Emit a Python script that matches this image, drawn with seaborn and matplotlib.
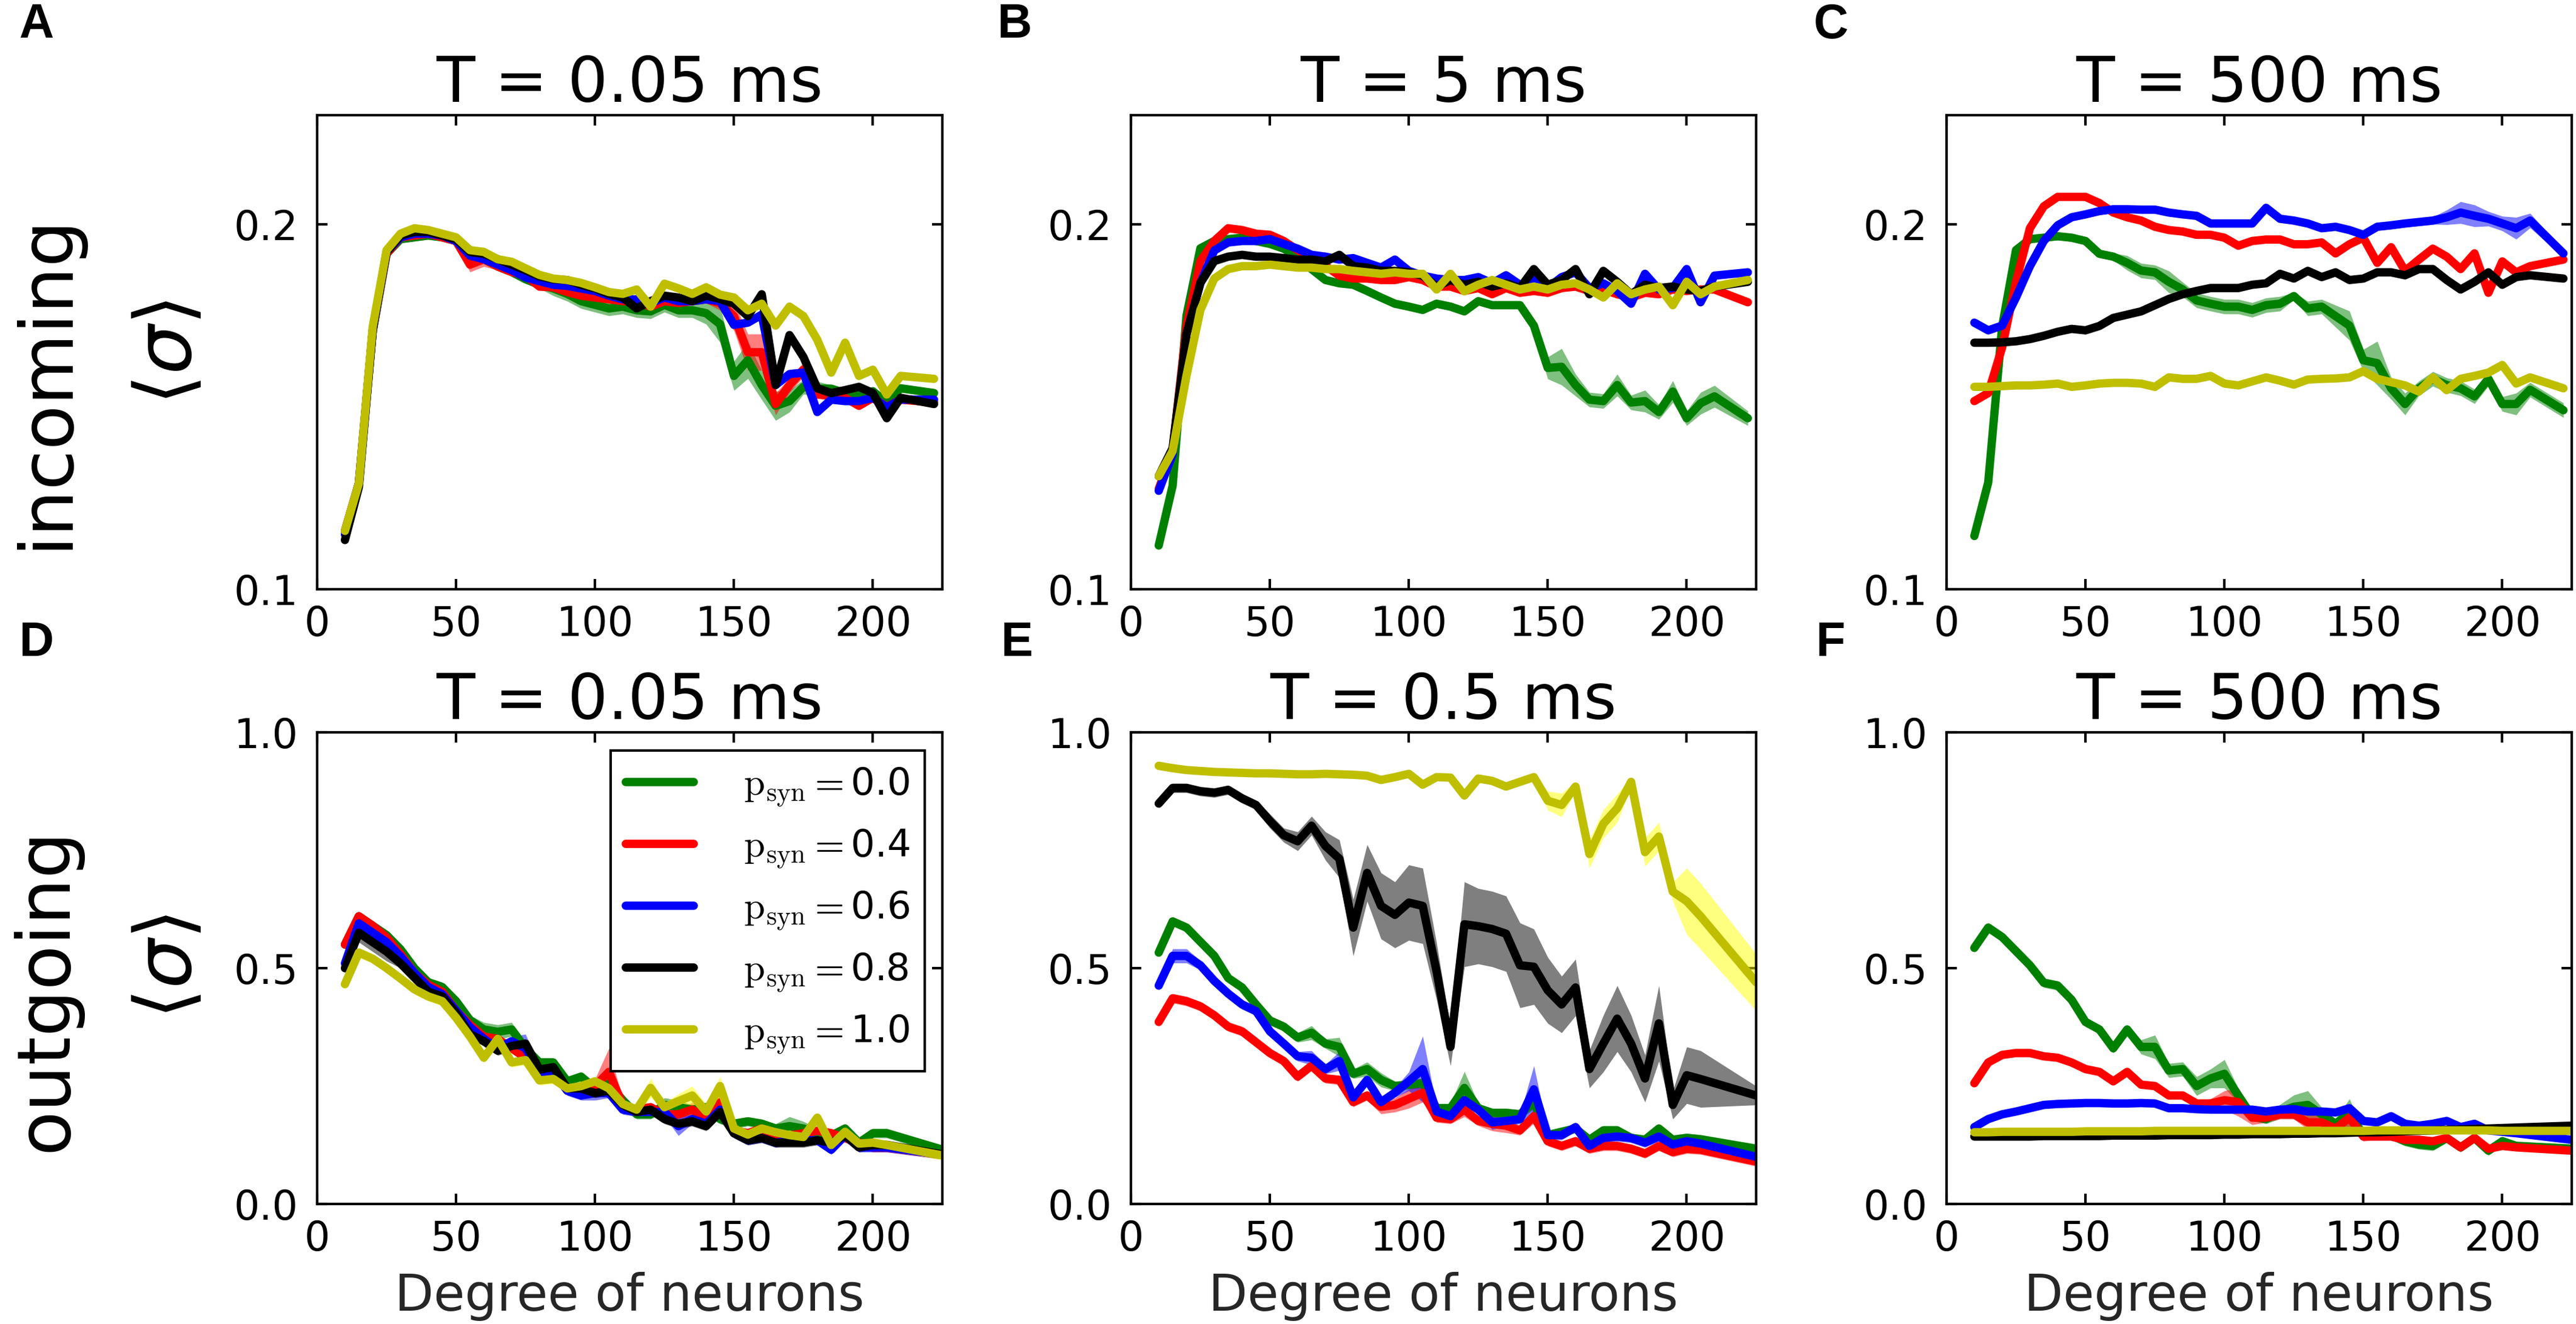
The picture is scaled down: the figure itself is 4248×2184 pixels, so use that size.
import numpy as np
import pandas as pd
import matplotlib
matplotlib.use("Agg")
import matplotlib.pyplot as plt
import seaborn as sns
from matplotlib.lines import Line2D
from matplotlib.font_manager import FontProperties
from matplotlib.ticker import FormatStrFormatter

# ---------------- data ----------------
PSYN = ["0.0", "0.4", "0.6", "0.8", "1.0"]
TITLES = ["T = 0.05 ms", "T = 5 ms", "T = 500 ms", "T = 0.05 ms", "T = 0.5 ms", "T = 500 ms"]
LETTERS = ["A", "B", "C", "D", "E", "F"]
ROW_LABELS = ["incoming", "outgoing"]
XLABEL = "Degree of neurons"
X_TICKS = [0, 50, 100, 150, 200]
TOP_Y_TICKS = [0.1, 0.2]
BOT_Y_TICKS = [0.0, 0.5, 1.0]

TOP_X = [10, 15, 20, 25, 30, 35, 40, 45, 50, 55,
         60, 65, 70, 75, 80, 85, 90, 95, 100, 105,
         110, 115, 120, 125, 130, 135, 140, 145, 150, 155,
         160, 165, 170, 175, 180, 185, 190, 195, 200, 205,
         210, 222]
BOT_X = [10, 15, 20, 25, 30, 35, 40, 45, 50, 55,
         60, 65, 70, 75, 80, 85, 90, 95, 100, 105,
         110, 115, 120, 125, 130, 135, 140, 145, 150, 155,
         160, 165, 170, 175, 180, 185, 190, 195, 200, 205,
         225]

# Panel A (incoming, T = 0.05 ms)
A_GRN = [.116, .129, .171, .192, .196, .1965, .197, .1965, .1955, .1925,
         .1905, .1885, .187, .185, .1835, .1825, .181, .179, .178, .177,
         .1775, .1765, .1762, .178, .1765, .1765, .1757, .1727, .1585, .1628,
         .156, .1503, .1516, .1555, .155, .155, .1538, .1534, .1543, .1512,
         .1551, .1538]
A_RED = [.116, .129, .171, .192, .1965, .197, .1975, .1965, .1955, .189,
         .1905, .1885, .187, .186, .183, .1828, .1815, .1805, .180, .1795,
         .179, .179, .1775, .179, .1785, .179, .1795, .1785, .1749, .165,
         .165, .1508, .156, .1602, .1534, .153, .1525, .1503, .1525, .150,
         .152, .1512]
A_BLU = [.115, .129, .171, .1925, .1965, .1975, .1975, .197, .1955, .1915,
         .1905, .189, .1875, .1855, .1845, .1835, .1832, .1825, .1818, .1805,
         .1795, .1795, .1785, .180, .179, .179, .1795, .179, .1725, .1731,
         .1753, .156, .159, .1594, .1486, .152, .1516, .1516, .1525, .1499,
         .152, .152]
A_BLK = [.1135, .128, .171, .1925, .197, .198, .198, .197, .196, .1925,
         .192, .1905, .189, .1875, .1858, .185, .1848, .1835, .1825, .181,
         .180, .177, .179, .1805, .180, .179, .1805, .1796, .1783, .1749,
         .1809, .156, .1697, .1637, .1551, .1538, .1546, .1555, .1538, .1469,
         .1525, .1508]
A_YEL = [.116, .129, .172, .193, .1975, .199, .1985, .1975, .1965, .193,
         .1925, .1905, .1898, .188, .1862, .1852, .1848, .184, .1828, .1815,
         .181, .1822, .1775, .1838, .1825, .181, .1828, .1808, .180, .1765,
         .1783, .1723, .1775, .1749, .1684, .1594, .1676, .1585, .1602, .1534,
         .1585, .1577]
A_GRN_ERR = [.001, .001, .001, .001, .001, .001, .001, .001, .001, .001,
             .001, .001, .001, .001, .001, .002, .002, .002, .002, .002,
             .002, .002, .002, .002, .002, .002, .003, .005, .004, .005,
             .004, .004, .003, .002, .002, .001, .001, .001, .001, .001,
             .001, .001]
A_RED_ERR = [.001, .001, .001, .001, .001, .001, .001, .001, .001, .002,
             .002, .001, .001, .001, .001, .001, .001, .001, .001, .001,
             .001, .001, .001, .001, .001, .001, .001, .002, .004, .005,
             .005, .003, .002, .002, .001, .001, .001, .001, .001, .001,
             .001, .001]

# Panel B (incoming, T = 5 ms)
B_GRN = [.112, .1284, .175, .1935, .1955, .196, .1964, .1955, .1947, .1934,
         .191, .1878, .1848, .1839, .1835, .1818, .180, .1783, .1775, .1766,
         .1783, .1775, .1762, .179, .1779, .1779, .1779, .1723, .1607, .161,
         .156, .152, .1516, .156, .1512, .1516, .1486, .1542, .1469, .151,
         .1529, .1469]
B_RED = [.1275, .138, .172, .190, .1955, .199, .1985, .1975, .1972, .1955,
         .193, .1912, .1887, .186, .1852, .1852, .1848, .1848, .1856, .1848,
         .183, .183, .1818, .1826, .1809, .1826, .1813, .1818, .1813, .1826,
         .183, .1818, .1822, .1809, .180, .1813, .1809, .1822, .1818, .1822,
         .1822, .1787]
B_BLU = [.127, .137, .170, .184, .1929, .1951, .1955, .1955, .196, .1947,
         .1934, .1917, .1912, .1904, .1908, .1895, .1882, .1904, .1873, .186,
         .1852, .1848, .1848, .1856, .1839, .1861, .1835, .1848, .1826, .1856,
         .1869, .1826, .1839, .1818, .1783, .1865, .1822, .1826, .1878, .1787,
         .186, .1869]
B_BLK = [.131, .1387, .170, .184, .190, .1912, .1917, .1912, .1912, .1908,
         .1904, .1904, .1899, .1917, .1886, .1882, .1873, .1873, .1869, .186,
         .183, .1848, .1835, .1843, .183, .1839, .1826, .1878, .1835, .1848,
         .1878, .1809, .1873, .1843, .1809, .1835, .1826, .183, .1822, .1818,
         .183, .1843]
B_YEL = [.131, .1379, .1586, .1766, .1852, .1878, .1886, .1886, .189, .1886,
         .1882, .1882, .1878, .1878, .1873, .1869, .1865, .1869, .1865, .1865,
         .1822, .1865, .1817, .1835, .1848, .1835, .1822, .183, .1822, .1835,
         .1839, .1822, .180, .1839, .1809, .1822, .183, .1779, .1843, .1809,
         .183, .1848]
B_GRN_ERR = [.001, .001, .001, .001, .001, .001, .001, .001, .001, .001,
             .001, .001, .001, .001, .001, .001, .001, .001, .001, .001,
             .001, .001, .001, .001, .001, .001, .001, .002, .003, .005,
             .003, .002, .002, .003, .002, .003, .002, .003, .002, .003,
             .003, .002]

# Panel C (incoming, T = 500 ms)
C_GRN = [.1146, .1293, .172, .193, .196, .1964, .1968, .1964, .1955, .192,
         .1912, .1895, .1874, .1869, .1843, .1822, .1792, .1783, .1775, .1775,
         .1766, .1779, .1783, .1804, .177, .1775, .1749, .1723, .1628, .162,
         .1551, .1508, .1551, .1577, .156, .1551, .1529, .1577, .1508, .1508,
         .1547, .1491]
C_RED = [.1516, .1538, .1663, .1843, .199, .205, .2076, .2076, .2076, .2059,
         .2033, .202, .2011, .1994, .1985, .1981, .1972, .1972, .1964, .1942,
         .1955, .1959, .1959, .1946, .1946, .1951, .1921, .1946, .1964, .1895,
         .1938, .1873, .1904, .1934, .1912, .1878, .1921, .1813, .1899, .1869,
         .1886, .1904]
C_BLU = [.1731, .171, .1723, .180, .1886, .1955, .1998, .202, .2028, .2037,
         .2042, .2042, .2041, .2041, .2033, .2028, .2024, .2003, .2003, .2003,
         .2003, .2046, .2016, .2011, .2003, .199, .1994, .1985, .1972, .1994,
         .1998, .2003, .2007, .2011, .202, .2033, .2024, .2016, .2003, .199,
         .2011, .1921]
C_BLK = [.1676, .1676, .1677, .168, .1686, .1695, .1706, .1714, .171, .1722,
         .1744, .1753, .1762, .1779, .1796, .1809, .1818, .1826, .1826, .1826,
         .1835, .1839, .1865, .1852, .1873, .1856, .1869, .1848, .1852, .1869,
         .1869, .1861, .1878, .1878, .1848, .1822, .1843, .1869, .1835, .1856,
         .1861, .1852]
C_YEL = [.1555, .1555, .1557, .1559, .1559, .1561, .1564, .1555, .1559, .1564,
         .1566, .1566, .1564, .1555, .1581, .1577, .1577, .1585, .1564, .1559,
         .157, .1581, .1572, .1561, .1575, .1577, .1578, .1581, .1598, .1577,
         .1568, .1559, .1542, .1581, .1546, .1577, .1585, .1594, .1615, .1564,
         .1581, .1551]
C_GRN_ERR = [.001, .001, .001, .001, .001, .001, .001, .001, .001, .001,
             .001, .002, .002, .002, .003, .002, .002, .002, .002, .002,
             .002, .002, .002, .001, .002, .002, .003, .004, .003, .006,
             .003, .003, .002, .002, .002, .002, .002, .002, .002, .003,
             .002, .002]
C_BLU_ERR = [.001, .001, .001, .001, .001, .001, .001, .001, .001, .001,
             .001, .001, .001, .001, .001, .001, .001, .001, .001, .001,
             .001, .001, .001, .001, .001, .001, .001, .001, .001, .001,
             .001, .001, .001, .001, .002, .003, .003, .002, .002, .003,
             .002, .001]

# Panel D (outgoing, T = 0.05 ms)
D_GRN = [.55, .61, .59, .57, .54, .50, .47, .46, .43, .39,
         .37, .365, .37, .33, .30, .30, .26, .27, .245, .255,
         .22, .19, .19, .21, .205, .20, .205, .18, .17, .175,
         .17, .16, .165, .16, .15, .145, .16, .13, .15, .15,
         .115]
D_RED = [.55, .61, .59, .565, .53, .49, .465, .45, .41, .38,
         .355, .35, .33, .31, .27, .27, .245, .24, .25, .28,
         .21, .20, .205, .19, .19, .20, .18, .215, .155, .15,
         .16, .145, .145, .15, .155, .15, .14, .13, .12, .12,
         .105]
D_BLU = [.51, .595, .575, .555, .525, .49, .46, .445, .41, .375,
         .35, .33, .345, .33, .28, .28, .24, .23, .235, .235,
         .20, .195, .195, .195, .165, .18, .17, .20, .15, .135,
         .14, .13, .135, .135, .135, .115, .145, .12, .12, .12,
         .105]
D_BLK = [.50, .575, .555, .535, .51, .48, .45, .44, .405, .36,
         .345, .325, .335, .34, .285, .29, .245, .245, .235, .24,
         .21, .195, .20, .18, .17, .175, .165, .195, .15, .135,
         .14, .13, .13, .13, .135, .13, .145, .12, .125, .125,
         .105]
D_YEL = [.466, .533, .52, .50, .478, .455, .44, .43, .395, .355,
         .31, .35, .30, .305, .262, .265, .245, .25, .26, .245,
         .212, .20, .246, .205, .218, .23, .196, .25, .16, .147,
         .16, .152, .146, .142, .183, .125, .153, .128, .13, .125,
         .103]
D_GRN_ERR = [.01, .01, .01, .01, .01, .01, .01, .01, .01, .01,
             .015, .015, .015, .01, .01, .01, .01, .01, .01, .01,
             .01, .01, .01, .015, .015, .01, .01, .01, .01, .01,
             .01, .01, .02, .015, .01, .01, .01, .01, .01, .01,
             .01]
D_RED_ERR = [.01, .01, .01, .01, .01, .01, .01, .01, .01, .01,
             .01, .01, .01, .01, .01, .01, .01, .01, .015, .05,
             .01, .01, .01, .01, .01, .015, .01, .02, .01, .01,
             .01, .01, .01, .01, .01, .01, .01, .01, .01, .01,
             .01]
D_BLU_ERR = [.01, .01, .01, .01, .01, .01, .01, .01, .01, .01,
             .01, .01, .01, .03, .01, .01, .01, .01, .015, .01,
             .01, .01, .01, .01, .02, .01, .01, .01, .01, .01,
             .01, .01, .01, .01, .01, .01, .01, .01, .01, .01,
             .01]
D_BLK_ERR = [.01, .02, .02, .02, .01, .01, .01, .01, .01, .01,
             .01, .01, .01, .01, .01, .01, .01, .01, .01, .01,
             .01, .01, .01, .01, .01, .01, .01, .01, .01, .01,
             .01, .01, .01, .01, .01, .01, .01, .01, .01, .01,
             .01]
D_YEL_ERR = [.012, .01, .01, .01, .01, .01, .01, .01, .01, .01,
             .01, .01, .01, .01, .01, .01, .01, .01, .01, .01,
             .01, .01, .02, .01, .015, .02, .015, .02, .01, .01,
             .01, .01, .01, .01, .01, .01, .01, .01, .01, .01,
             .01]

# Panel E (outgoing, T = 0.5 ms)
E_GRN = [.533, .599, .586, .556, .526, .479, .459, .423, .389, .376,
         .353, .363, .34, .333, .276, .286, .263, .25, .253, .256,
         .203, .203, .246, .203, .193, .193, .19, .216, .146, .153,
         .16, .136, .156, .156, .14, .136, .16, .136, .14, .137,
         .117]
E_RED = [.386, .436, .43, .419, .40, .376, .366, .343, .32, .303,
         .27, .293, .266, .263, .216, .23, .206, .21, .223, .236,
         .183, .18, .20, .176, .17, .166, .156, .186, .133, .123,
         .133, .117, .123, .123, .117, .107, .123, .11, .117, .115,
         .09]
E_BLU = [.463, .526, .526, .506, .473, .446, .423, .409, .366, .34,
         .313, .31, .286, .303, .226, .263, .216, .236, .26, .286,
         .196, .186, .22, .20, .173, .176, .18, .243, .146, .146,
         .163, .123, .14, .143, .14, .13, .143, .126, .133, .128,
         .10]
E_BLK = [.849, .882, .882, .875, .872, .878, .86, .846, .812, .782,
         .769, .802, .759, .732, .586, .702, .632, .613, .639, .632,
         .493, .333, .593, .589, .583, .573, .506, .503, .453, .423,
         .459, .286, .34, .393, .34, .266, .383, .21, .273, .265,
         .23]
E_YEL = [.929, .924, .92, .918, .916, .915, .914, .913, .913, .912,
         .911, .911, .912, .911, .91, .908, .899, .905, .912, .889,
         .905, .904, .866, .902, .897, .885, .895, .905, .855, .846,
         .885, .742, .806, .839, .895, .746, .779, .662, .642, .61,
         .47]
E_GRN_ERR = [.01, .01, .01, .01, .01, .01, .01, .01, .01, .01,
             .01, .015, .01, .02, .01, .015, .015, .01, .01, .01,
             .01, .01, .035, .01, .01, .01, .01, .015, .01, .01,
             .01, .01, .01, .01, .01, .01, .01, .01, .01, .01,
             .01]
E_RED_ERR = [.01, .01, .01, .01, .01, .01, .01, .01, .01, .01,
             .01, .01, .01, .01, .01, .01, .015, .015, .02, .02,
             .01, .01, .015, .01, .015, .015, .01, .015, .01, .01,
             .01, .01, .01, .01, .01, .01, .01, .01, .01, .01,
             .01]
E_BLU_ERR = [.01, .015, .015, .01, .01, .01, .01, .01, .01, .01,
             .01, .015, .01, .02, .01, .01, .01, .01, .02, .07,
             .01, .01, .01, .01, .015, .01, .01, .05, .01, .01,
             .01, .01, .01, .01, .01, .01, .01, .01, .01, .01,
             .01]
E_BLK_ERR = [.01, .01, .01, .01, .01, .01, .01, .01, .015, .015,
             .02, .02, .03, .04, .06, .06, .07, .07, .08, .08,
             .06, .04, .09, .08, .08, .08, .09, .08, .07, .06,
             .06, .04, .06, .07, .06, .05, .08, .03, .06, .06,
             .02]
E_YEL_ERR = [.005, .005, .005, .005, .005, .005, .005, .005, .005, .005,
             .005, .005, .005, .005, .005, .005, .005, .005, .005, .005,
             .005, .005, .005, .005, .005, .005, .005, .005, .02, .025,
             .01, .03, .03, .03, .01, .03, .03, .02, .07, .07,
             .06]

# Panel F (outgoing, T = 500 ms)
F_GRN = [.543, .586, .566, .536, .506, .469, .463, .433, .386, .37,
         .33, .37, .333, .333, .283, .286, .25, .266, .276, .23,
         .186, .18, .196, .206, .21, .19, .17, .193, .146, .146,
         .146, .133, .126, .123, .14, .12, .14, .113, .133, .123,
         .117]
F_RED = [.256, .30, .316, .32, .32, .313, .31, .30, .286, .28,
         .26, .28, .253, .25, .23, .23, .213, .213, .22, .216,
         .183, .183, .19, .19, .173, .173, .16, .183, .143, .143,
         .143, .136, .136, .133, .14, .12, .14, .117, .123, .12,
         .113]
F_BLU = [.163, .18, .19, .196, .203, .21, .212, .213, .214, .214,
         .213, .213, .214, .213, .203, .203, .201, .20, .20, .20,
         .20, .196, .20, .201, .196, .196, .194, .203, .176, .173,
         .186, .17, .166, .17, .176, .163, .17, .156, .153, .15,
         .136]
F_BLK = [.143, .143, .143, .143, .143, .144, .144, .144, .144, .144,
         .145, .145, .145, .145, .146, .146, .146, .146, .147, .147,
         .148, .148, .148, .149, .149, .150, .150, .151, .152, .152,
         .153, .154, .155, .156, .157, .158, .159, .160, .161, .162,
         .166]
F_YEL = [.152, .152, .153, .153, .153, .153, .153, .153, .154, .154,
         .154, .154, .154, .155, .155, .155, .155, .155, .155, .155,
         .155, .155, .155, .155, .155, .155, .155, .155, .155, .156,
         .156, .156, .156, .156, .156, .156, .156, .156, .155, .155,
         .155]
F_GRN_ERR = [.01, .01, .01, .01, .01, .01, .01, .01, .01, .01,
             .01, .01, .015, .025, .015, .015, .02, .02, .03, .015,
             .01, .01, .015, .025, .03, .015, .01, .03, .01, .01,
             .01, .01, .01, .01, .01, .01, .01, .01, .01, .01,
             .01]
F_RED_ERR = [.005, .005, .005, .005, .005, .005, .005, .005, .005, .005,
             .005, .005, .005, .005, .005, .005, .005, .01, .02, .03,
             .015, .01, .01, .01, .015, .02, .015, .02, .01, .005,
             .005, .005, .005, .005, .005, .005, .005, .005, .005, .005,
             .005]

# ---------------- style ----------------
LINE_COLORS = ["#008000", "#ff0000", "#0000ff", "#000000", "#bfbf00"]
BAND_COLORS = ["#008000", "#ff0000", "#0000ff", "#000000", "#ffff00"]
LW = 3.3

sns.set_theme(style="ticks")
plt.rcParams.update({
    "font.family": ["DejaVu Sans"],
    "mathtext.fontset": "dejavusans",
    "axes.linewidth": 1.0,
    "axes.edgecolor": "black",
    "xtick.direction": "in",
    "ytick.direction": "in",
    "xtick.top": True,
    "ytick.right": True,
    "xtick.major.size": 4,
    "ytick.major.size": 4,
    "xtick.major.width": 1,
    "ytick.major.width": 1,
    "xtick.color": "black",
    "ytick.color": "black",
    "text.color": "black",
})

W, H = 4248, 2184
fig = plt.figure(figsize=(W / 300, H / 300), dpi=300)
fig.patch.set_facecolor("white")

COL_LEFT = [523, 1865, 3210]
COL_W = 1031
ROW_TOP = [190, 1208]
ROW_H = [782, 778]

panels = [
    (TOP_X, [A_GRN, A_RED, A_BLU, A_BLK, A_YEL], {0: A_GRN_ERR, 1: A_RED_ERR}),
    (TOP_X, [B_GRN, B_RED, B_BLU, B_BLK, B_YEL], {0: B_GRN_ERR}),
    (TOP_X, [C_GRN, C_RED, C_BLU, C_BLK, C_YEL], {0: C_GRN_ERR, 2: C_BLU_ERR}),
    (BOT_X, [D_GRN, D_RED, D_BLU, D_BLK, D_YEL],
     {0: D_GRN_ERR, 1: D_RED_ERR, 2: D_BLU_ERR, 3: D_BLK_ERR, 4: D_YEL_ERR}),
    (BOT_X, [E_GRN, E_RED, E_BLU, E_BLK, E_YEL],
     {0: E_GRN_ERR, 1: E_RED_ERR, 2: E_BLU_ERR, 3: E_BLK_ERR, 4: E_YEL_ERR}),
    (BOT_X, [F_GRN, F_RED, F_BLU, F_BLK, F_YEL], {0: F_GRN_ERR, 1: F_RED_ERR}),
]

palette = dict(zip(PSYN, LINE_COLORS))
axes = []
for i, (xs, series, errs) in enumerate(panels):
    r, c = divmod(i, 3)
    ax = fig.add_axes([COL_LEFT[c] / W, 1 - (ROW_TOP[r] + ROW_H[r]) / H,
                       COL_W / W, ROW_H[r] / H])
    axes.append(ax)
    for k, e in errs.items():
        y = np.asarray(series[k])
        e = np.asarray(e)
        ax.fill_between(xs, y - e, y + e, color=BAND_COLORS[k], alpha=0.5,
                        linewidth=0, zorder=1)
    df = pd.concat([pd.DataFrame({"degree": xs, "sigma": s, "psyn": p})
                    for s, p in zip(series, PSYN)], ignore_index=True)
    sns.lineplot(data=df, x="degree", y="sigma", hue="psyn", hue_order=PSYN,
                 palette=palette, linewidth=LW, legend=False, errorbar=None,
                 sort=False, ax=ax, zorder=2)
    ax.set_xlim(0, 225)
    ax.set_xticks(X_TICKS)
    if r == 0:
        ax.set_ylim(0.1, 0.23)
        ax.set_yticks(TOP_Y_TICKS)
        ax.set_xlabel("")
    else:
        ax.set_ylim(0.0, 1.0)
        ax.set_yticks(BOT_Y_TICKS)
        ax.set_xlabel(XLABEL, fontsize=20, labelpad=5)
    ax.yaxis.set_major_formatter(FormatStrFormatter("%.1f"))
    ax.set_ylabel("")
    ax.tick_params(axis="both", which="major", labelsize=16)
    ax.tick_params(axis="x", pad=6)
    ax.tick_params(axis="y", pad=7.5)
    ax.set_title(TITLES[i], fontsize=25, pad=4)
    for sp in ax.spines.values():
        sp.set_visible(True)
        sp.set_linewidth(1.0)
        sp.set_color("black")

# legend in panel D
handles = [Line2D([0], [0], color=col, lw=LW) for col in LINE_COLORS]
labels = [r"$\mathrm{p_{syn}}=$" + p for p in PSYN]
leg = axes[3].legend(handles, labels, loc="upper right",
                     bbox_to_anchor=(0.972, 0.961), borderaxespad=0,
                     prop=FontProperties(family="DejaVu Sans", size=15, math_fontfamily="cm"),
                     handlelength=1.8, handletextpad=1.3, labelspacing=0.5,
                     borderpad=0.4, fancybox=False, framealpha=1, edgecolor="black")
leg.get_frame().set_linewidth(1.0)

# row labels
fig.text(76 / W, 1 - 628 / H, ROW_LABELS[0], rotation=90, ha="center", va="center", fontsize=29)
fig.text(280 / W, 1 - 581 / H, r"$\langle\sigma\rangle$", rotation=90, ha="center", va="center", fontsize=31)
fig.text(76 / W, 1 - 1632 / H, ROW_LABELS[1], rotation=90, ha="center", va="center", fontsize=29)
fig.text(280 / W, 1 - 1594 / H, r"$\langle\sigma\rangle$", rotation=90, ha="center", va="center", fontsize=31)

# panel letters
LETTER_POS = [(60, 42), (1673, 42), (3019, 42), (60, 1062), (1677, 1062), (3019, 1062)]
for L, (px, py) in zip(LETTERS, LETTER_POS):
    fig.text(px / W, 1 - py / H, L, ha="center", va="center", fontsize=19,
             fontweight="bold", family=["Liberation Sans", "DejaVu Sans"])

fig.savefig("out.png", dpi=300, facecolor="white")
